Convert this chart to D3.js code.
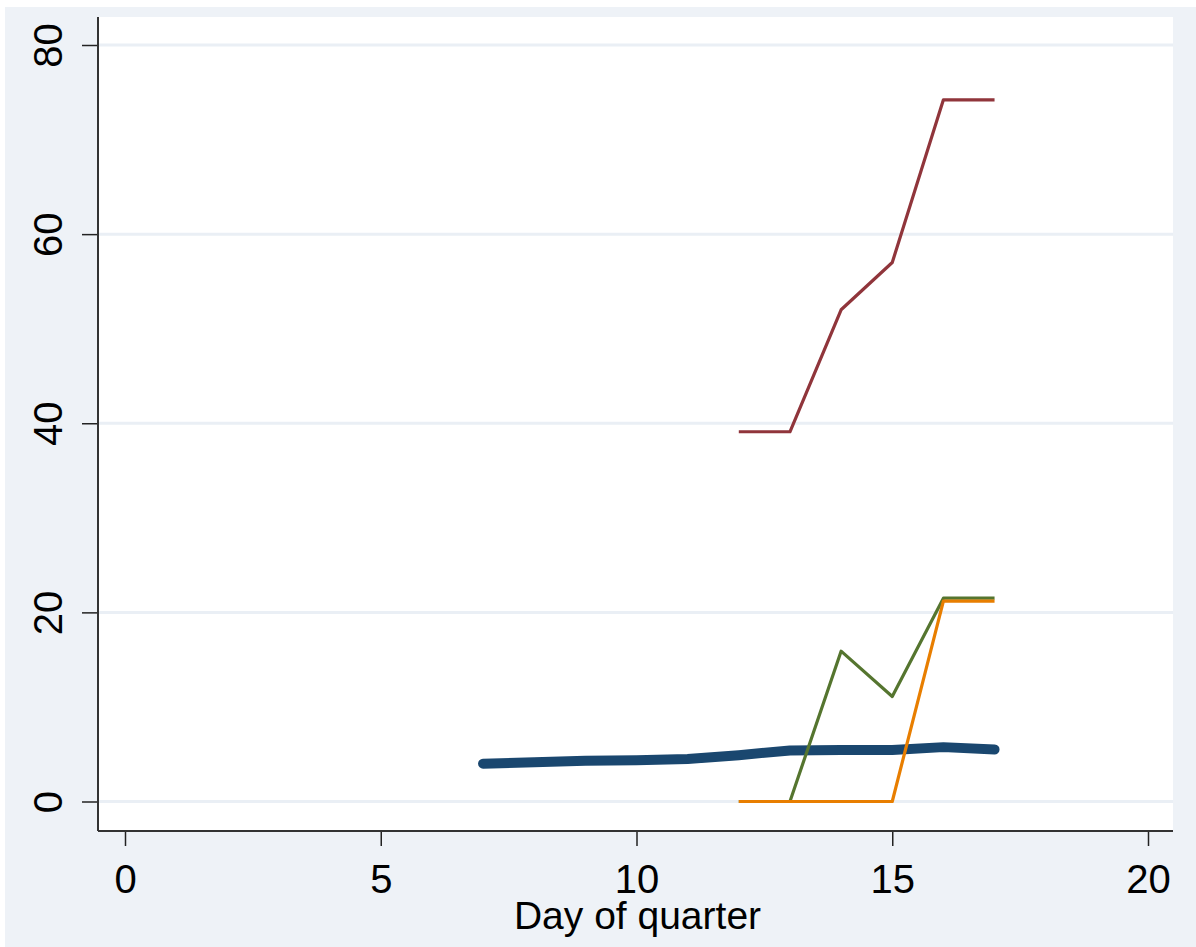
<!DOCTYPE html>
<html>
<head>
<meta charset="utf-8">
<script src="https://cdn.jsdelivr.net/npm/d3@7"></script>
<style>
  html, body { margin: 0; padding: 0; background: #ffffff; }
  svg { display: block; }
  text { font-family: "Liberation Sans", Arial, sans-serif; fill: #000; }
</style>
</head>
<body>
<svg id="chart" width="1196" height="947"></svg>
<script>
// ---- data ----
const blueDays = [7, 8, 9, 10, 11, 12, 13, 14, 15, 16, 17];
const blueValues = [4.0, 4.15, 4.3, 4.35, 4.5, 4.9, 5.4, 5.45, 5.45, 5.75, 5.5];

const redDays = [12, 13, 14, 15, 16, 17];
const redValues = [39.1, 39.1, 52.0, 57.0, 74.2, 74.2];

const greenDays = [12, 13, 14, 15, 16, 17];
const greenValues = [0, 0, 15.9, 11.1, 21.5, 21.5];

const orangeDays = [12, 13, 14, 15, 16, 17];
const orangeValues = [0, 0, 0, 0, 21.2, 21.2];

const xTicks = [0, 5, 10, 15, 20];
const yTicks = [0, 20, 40, 60, 80];
const xTitle = "Day of quarter";

// ---- layout ----
const svg = d3.select("#chart");
const W = 1196, H = 947;
const plot = { left: 98, right: 1173, top: 17, bottom: 831 };

const x = d3.scaleLinear().domain([0, 20]).range([125, 1148]);
const y = d3.scaleLinear().domain([0, 80]).range([801.5, 45]);

// outer background
svg.append("rect").attr("x", 5).attr("y", 7).attr("width", W - 5).attr("height", H - 7)
  .attr("fill", "#eef2f7");

// plot region
svg.append("rect").attr("x", plot.left).attr("y", plot.top)
  .attr("width", plot.right - plot.left).attr("height", plot.bottom - plot.top)
  .attr("fill", "#ffffff");

// gridlines
svg.append("g").selectAll("line").data(yTicks).join("line")
  .attr("x1", plot.left).attr("x2", plot.right)
  .attr("y1", d => y(d)).attr("y2", d => y(d))
  .attr("stroke", "#eaeff5").attr("stroke-width", 3);

// y axis
const yAxis = d3.axisLeft(y).tickValues(yTicks).tickSize(16).tickPadding(20);
const gy = svg.append("g").attr("transform", `translate(${plot.left},0)`).call(yAxis);
gy.select(".domain").remove();
gy.selectAll(".tick line").attr("stroke", "#222").attr("stroke-width", 1.5);
gy.selectAll(".tick text")
  .attr("font-size", 40)
  .attr("text-anchor", "middle")
  .attr("x", null).attr("dy", null)
  .attr("transform", "translate(-36,0) rotate(-90)");
svg.append("line").attr("x1", plot.left).attr("x2", plot.left)
  .attr("y1", plot.top).attr("y2", plot.bottom)
  .attr("stroke", "#333").attr("stroke-width", 2);

// x axis
const xAxis = d3.axisBottom(x).tickValues(xTicks).tickSize(15).tickPadding(12);
const gx = svg.append("g").attr("transform", `translate(0,${plot.bottom})`).call(xAxis);
gx.select(".domain").remove();
gx.selectAll(".tick line").attr("stroke", "#222").attr("stroke-width", 1.5);
gx.selectAll(".tick text").attr("font-size", 40).attr("dy", null)
  .attr("y", 62);
svg.append("line").attr("x1", plot.left).attr("x2", plot.right)
  .attr("y1", plot.bottom).attr("y2", plot.bottom)
  .attr("stroke", "#333").attr("stroke-width", 2);

svg.append("text").attr("x", (plot.left + plot.right) / 2 + 2).attr("y", 929)
  .attr("text-anchor", "middle").attr("font-size", 39).text(xTitle);

// ---- lines ----
const line = d3.line().x(d => x(d[0])).y(d => y(d[1]));
function drawSeries(days, values, color, width, cap) {
  svg.append("path")
    .datum(days.map((d, i) => [d, values[i]]))
    .attr("d", line)
    .attr("fill", "none")
    .attr("stroke", color)
    .attr("stroke-width", width)
    .attr("stroke-linejoin", "round")
    .attr("stroke-linecap", cap);
}
drawSeries(blueDays, blueValues, "#1a476f", 10, "round");
drawSeries(redDays, redValues, "#90353b", 3.2, "butt");
drawSeries(greenDays, greenValues, "#55752f", 3.2, "butt");
drawSeries(orangeDays, orangeValues, "#e87e00", 3.2, "butt");
</script>
</body>
</html>
